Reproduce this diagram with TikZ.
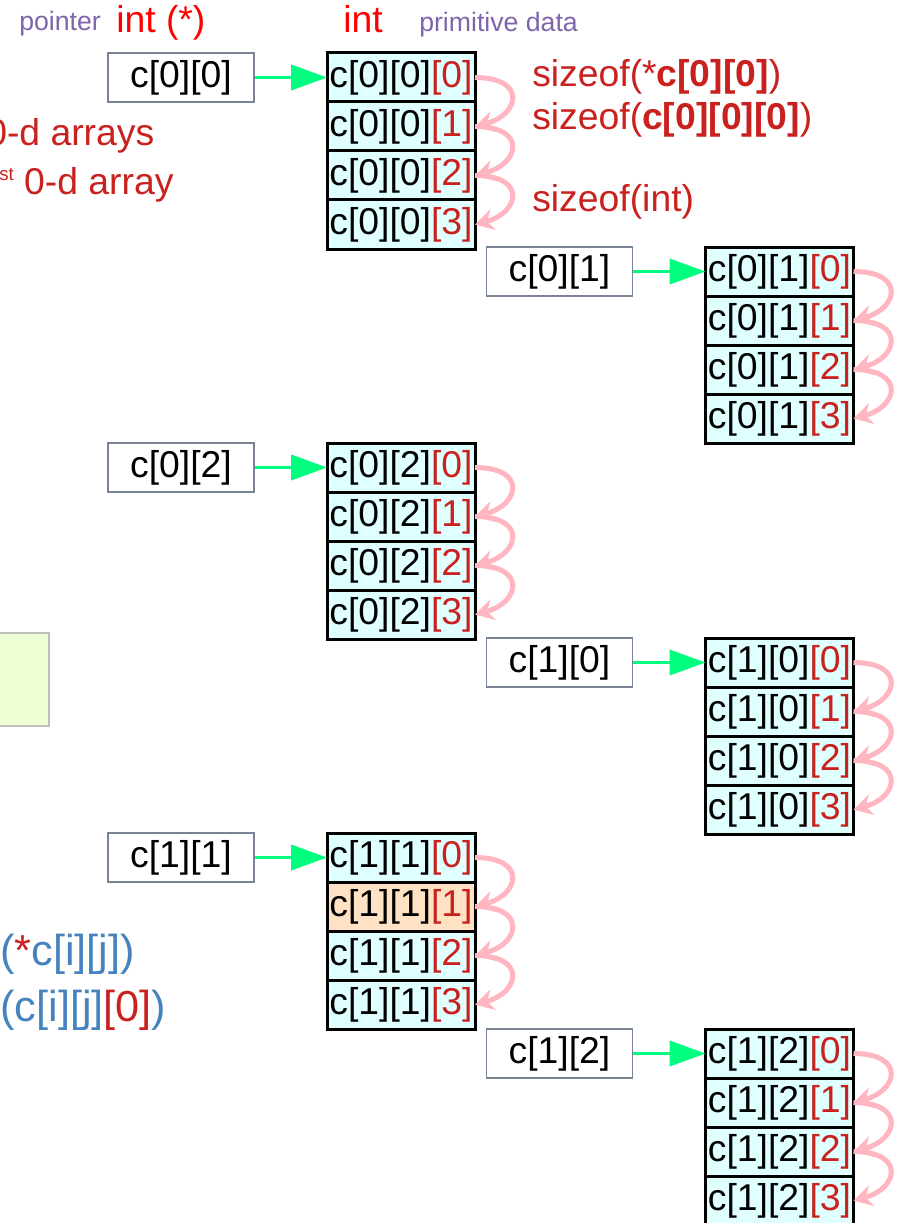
\documentclass[tikz,border=0pt]{standalone}
\usepackage{fontspec}
\setmainfont{Liberation Sans}
\usepackage{xcolor}
\usepackage{tikz}
\usetikzlibrary{arrows.meta, positioning}
\definecolor{IdxRed}{RGB}{201,33,30}
\definecolor{HdrRed}{RGB}{255,0,0}
\definecolor{HdrPurple}{RGB}{128,100,170}
\definecolor{NoteBlue}{RGB}{70,130,190}
\definecolor{ArrGreen}{RGB}{0,255,127}
\definecolor{ArrPink}{RGB}{255,182,193}
\definecolor{CellCyan}{RGB}{224,255,255}
\definecolor{CellPeach}{RGB}{255,226,196}
\definecolor{PtrGray}{RGB}{120,132,150}
\definecolor{NoteGreen}{RGB}{238,255,214}
\definecolor{NoteBorder}{RGB}{190,190,190}
\tikzset{
  cell/.style={
    rectangle, draw=black, line width=2.25pt, fill=CellCyan,
    minimum width=111pt, minimum height=36.75pt,
    inner sep=0pt, outer sep=0pt,
    font=\fontsize{28}{30}\selectfont
  },
  ptr/.style={
    rectangle, draw=PtrGray, line width=1.1pt, fill=white,
    minimum width=109.5pt, minimum height=36.75pt,
    inner sep=0pt, font=\fontsize{28}{30}\selectfont
  },
  garr/.style={-{Triangle[length=27pt,width=19pt]}, draw=ArrGreen, line width=2.25pt},
  parr/.style={-{Stealth[length=14pt,width=16pt]}, draw=ArrPink, line width=3.75pt},
  big/.style={inner sep=0pt, anchor=base west, font=\fontsize{28}{32}\selectfont},
  huge/.style={inner sep=0pt, anchor=base west, font=\fontsize{32.5}{36}\selectfont},
  small/.style={inner sep=0pt, anchor=base west, font=\fontsize{20}{24}\selectfont}
}

\begin{document}
\begin{tikzpicture}[x=0.75pt, y=-0.75pt, node distance=0pt]
  \useasboundingbox (0,0) rectangle (898,1223);
  \clip (0,0) rectangle (898,1223);

  % Headings
  \node[small, text=HdrPurple] (hptr)  at (19,31)  {pointer};
  \node[big,   text=HdrRed]    (hptrt) at (116,33) {int (*)};
  \node[big,   text=HdrRed]    (hint)  at (343,33) {int};
  \node[small, text=HdrPurple] (hprim) at (419,32) {primitive data};

  % Left notes
  \node[big, text=IdxRed] (n0d)  at (-14,146) {0-d arrays};
  \node[big, text=IdxRed] (n1st) at (-1,195)
        {\raisebox{11pt}{\fontsize{14}{14}\selectfont st} 0-d array};
  \draw[draw=NoteBorder, fill=NoteGreen, line width=1.2pt] (-5,633) rectangle (49,726);
  \node[huge, text=NoteBlue] (nderef) at (0,965)  {(\textcolor{IdxRed}{*}c[i][j])};
  \node[huge, text=NoteBlue] (nidx)   at (0,1021) {(c[i][j]\textcolor{IdxRed}{[0]})};

  % sizeof notes
  \node[big, text=IdxRed] (sz1) at (532,87)  {sizeof(*\textbf{c[0][0]})};
  \node[big, text=IdxRed] (sz2) at (532,130) {sizeof(\textbf{c[0][0][0]})};
  \node[big, text=IdxRed] (sz3) at (532,212) {sizeof(int)};

  % ── Pointer boxes ──
  \node[ptr] (p00) at (181,77.5)    {c[0][0]};
  \node[ptr] (p01) at (559.5,271.5) {c[0][1]};
  \node[ptr] (p02) at (181,467.5)   {c[0][2]};
  \node[ptr] (p10) at (559.5,662.5) {c[1][0]};
  \node[ptr] (p11) at (181,857.5)   {c[1][1]};
  \node[ptr] (p12) at (559.5,1053.5){c[1][2]};

  % ── c[0][0] block ──
  \node[cell] (c000) at (401,77.5) {c[0][0]\textcolor{IdxRed}{[0]}};
  \node[cell, below=of c000] (c001) {c[0][0]\textcolor{IdxRed}{[1]}};
  \node[cell, below=of c001] (c002) {c[0][0]\textcolor{IdxRed}{[2]}};
  \node[cell, below=of c002] (c003) {c[0][0]\textcolor{IdxRed}{[3]}};

  % ── c[0][1] block ──
  \node[cell] (c010) at (779.5,271.5) {c[0][1]\textcolor{IdxRed}{[0]}};
  \node[cell, below=of c010] (c011) {c[0][1]\textcolor{IdxRed}{[1]}};
  \node[cell, below=of c011] (c012) {c[0][1]\textcolor{IdxRed}{[2]}};
  \node[cell, below=of c012] (c013) {c[0][1]\textcolor{IdxRed}{[3]}};

  % ── c[0][2] block ──
  \node[cell] (c020) at (401,467.5) {c[0][2]\textcolor{IdxRed}{[0]}};
  \node[cell, below=of c020] (c021) {c[0][2]\textcolor{IdxRed}{[1]}};
  \node[cell, below=of c021] (c022) {c[0][2]\textcolor{IdxRed}{[2]}};
  \node[cell, below=of c022] (c023) {c[0][2]\textcolor{IdxRed}{[3]}};

  % ── c[1][0] block ──
  \node[cell] (c100) at (779.5,662.5) {c[1][0]\textcolor{IdxRed}{[0]}};
  \node[cell, below=of c100] (c101) {c[1][0]\textcolor{IdxRed}{[1]}};
  \node[cell, below=of c101] (c102) {c[1][0]\textcolor{IdxRed}{[2]}};
  \node[cell, below=of c102] (c103) {c[1][0]\textcolor{IdxRed}{[3]}};

  % ── c[1][1] block ──
  \node[cell] (c110) at (401,857.5) {c[1][1]\textcolor{IdxRed}{[0]}};
  \node[cell, below=of c110, fill=CellPeach] (c111) {c[1][1]\textcolor{IdxRed}{[1]}};
  \node[cell, below=of c111] (c112) {c[1][1]\textcolor{IdxRed}{[2]}};
  \node[cell, below=of c112] (c113) {c[1][1]\textcolor{IdxRed}{[3]}};

  % ── c[1][2] block ──
  \node[cell] (c120) at (779.5,1053.5) {c[1][2]\textcolor{IdxRed}{[0]}};
  \node[cell, below=of c120] (c121) {c[1][2]\textcolor{IdxRed}{[1]}};
  \node[cell, below=of c121] (c122) {c[1][2]\textcolor{IdxRed}{[2]}};
  \node[cell, below=of c122] (c123) {c[1][2]\textcolor{IdxRed}{[3]}};

  % ── Pointer arrows ──
  \draw[garr] (p00) -- (c000);  \draw[garr] (p01) -- (c010);
  \draw[garr] (p02) -- (c020);  \draw[garr] (p10) -- (c100);
  \draw[garr] (p11) -- (c110);  \draw[garr] (p12) -- (c120);

  % ── Element steps ──
  \draw[parr] (c000.east) .. controls +(52,0) and +(45,-12) .. (c001.east);
  \draw[parr] (c001.east) .. controls +(52,0) and +(45,-12) .. (c002.east);
  \draw[parr] (c002.east) .. controls +(52,0) and +(45,-12) .. (c003.east);
  \draw[parr] (c010.east) .. controls +(52,0) and +(45,-12) .. (c011.east);
  \draw[parr] (c011.east) .. controls +(52,0) and +(45,-12) .. (c012.east);
  \draw[parr] (c012.east) .. controls +(52,0) and +(45,-12) .. (c013.east);
  \draw[parr] (c020.east) .. controls +(52,0) and +(45,-12) .. (c021.east);
  \draw[parr] (c021.east) .. controls +(52,0) and +(45,-12) .. (c022.east);
  \draw[parr] (c022.east) .. controls +(52,0) and +(45,-12) .. (c023.east);
  \draw[parr] (c100.east) .. controls +(52,0) and +(45,-12) .. (c101.east);
  \draw[parr] (c101.east) .. controls +(52,0) and +(45,-12) .. (c102.east);
  \draw[parr] (c102.east) .. controls +(52,0) and +(45,-12) .. (c103.east);
  \draw[parr] (c110.east) .. controls +(52,0) and +(45,-12) .. (c111.east);
  \draw[parr] (c111.east) .. controls +(52,0) and +(45,-12) .. (c112.east);
  \draw[parr] (c112.east) .. controls +(52,0) and +(45,-12) .. (c113.east);
  \draw[parr] (c120.east) .. controls +(52,0) and +(45,-12) .. (c121.east);
  \draw[parr] (c121.east) .. controls +(52,0) and +(45,-12) .. (c122.east);
  \draw[parr] (c122.east) .. controls +(52,0) and +(45,-12) .. (c123.east);
\end{tikzpicture}
\end{document}
